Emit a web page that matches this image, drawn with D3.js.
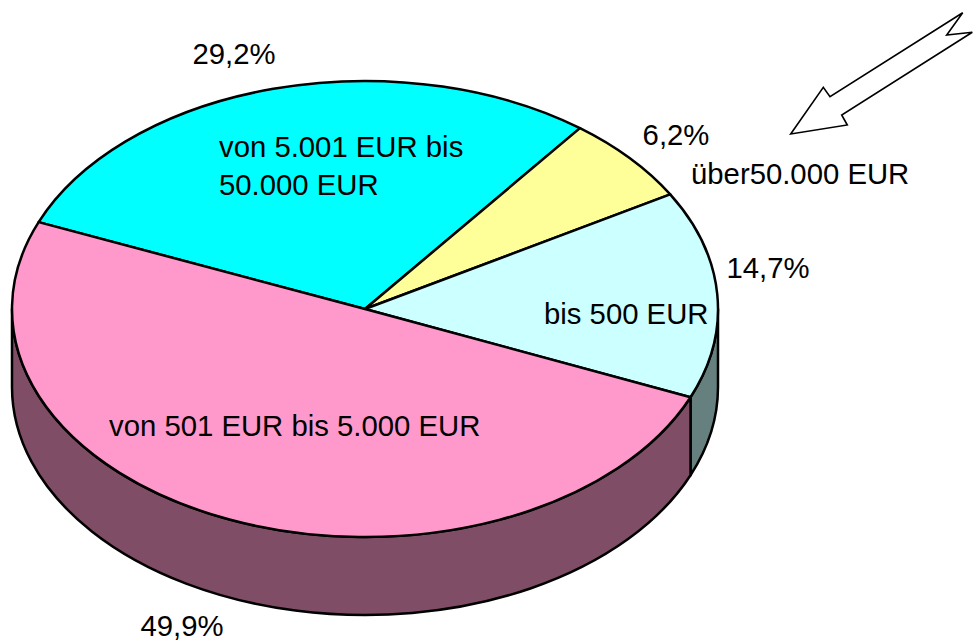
<!DOCTYPE html>
<html>
<head>
<meta charset="utf-8">
<script src="https://cdn.jsdelivr.net/npm/d3@7"></script>
<style>
  html, body { margin: 0; padding: 0; background: #fff; overflow: hidden; }
  text { font-family: "Liberation Sans", Arial, sans-serif; font-size: 29.3px; fill: #000; }
</style>
</head>
<body>
<div id="chart"></div>
<script>
const width = 973;
const height = 640;

const categories = ["von 5.001 EUR bis 50.000 EUR", "über50.000 EUR", "bis 500 EUR", "von 501 EUR bis 5.000 EUR"];
const shares = [29.2, 6.2, 14.7, 49.9];
const shareLabels = ["29,2%", "6,2%", "14,7%", "49,9%"];
const topColors = ["#00ffff", "#ffff99", "#ccffff", "#ff99cc"];
const sideColors = ["#008080", "#808060", "#668080", "#804d66"];

const cx = 365, cy = 309, rx = 353, ry = 228, depth = 78;

// unit circle -> squashed ellipse of the tilted pie
const x = d3.scaleLinear().domain([-1, 1]).range([cx - rx, cx + rx]);
const y = d3.scaleLinear().domain([-1, 1]).range([cy + ry, cy - ry]);
const px = a => x(Math.sin(a));
const py = a => y(Math.cos(a));

const slices = d3.pie().sort(null).value(d => d)
  .startAngle(-67.6 * Math.PI / 180)
  .endAngle((360 - 67.6) * Math.PI / 180)(shares);

const svg = d3.select("#chart")
  .append("svg")
  .attr("width", width)
  .attr("height", height)
  .style("display", "block");

function topPath(d) {
  const large = d.endAngle - d.startAngle > Math.PI ? 1 : 0;
  return `M${cx},${cy}L${px(d.startAngle)},${py(d.startAngle)}` +
    `A${rx},${ry} 0 ${large} 1 ${px(d.endAngle)},${py(d.endAngle)}Z`;
}

// wall only exists on the front half, between 90 and 270 degrees
function sidePath(d) {
  const a0 = Math.max(d.startAngle, Math.PI / 2);
  const a1 = Math.min(d.endAngle, Math.PI * 1.5);
  if (a1 <= a0) return null;
  return `M${px(a0)},${py(a0)}A${rx},${ry} 0 0 1 ${px(a1)},${py(a1)}` +
    `L${px(a1)},${py(a1) + depth}A${rx},${ry} 0 0 0 ${px(a0)},${py(a0) + depth}Z`;
}

svg.append("g")
  .selectAll("path")
  .data(slices)
  .enter().append("path")
  .attr("d", sidePath)
  .attr("fill", (d, i) => sideColors[i])
  .attr("stroke", "#000")
  .attr("stroke-width", 2.5)
  .attr("stroke-linejoin", "round");

svg.append("g")
  .selectAll("path")
  .data(slices)
  .enter().append("path")
  .attr("d", topPath)
  .attr("fill", (d, i) => topColors[i])
  .attr("stroke", "#000")
  .attr("stroke-width", 2.5)
  .attr("stroke-linejoin", "round");

// percent labels
const percentPos = [[234, 64], [676, 145], [768, 278], [182, 636]];
svg.append("g")
  .selectAll("text")
  .data(shareLabels)
  .enter().append("text")
  .attr("x", (d, i) => percentPos[i][0])
  .attr("y", (d, i) => percentPos[i][1])
  .attr("text-anchor", "middle")
  .text(d => d);

// category labels, first one wraps
const labelLines = [
  ["von 5.001 EUR bis", 219, 157],
  ["50.000 EUR", 219, 195],
  [categories[1], 691, 184],
  [categories[2], 544, 324],
  [categories[3], 109, 436]
];
svg.append("g")
  .selectAll("text")
  .data(labelLines)
  .enter().append("text")
  .attr("x", d => d[1])
  .attr("y", d => d[2])
  .text(d => d[0]);

// hollow arrow pointing at the small slice
const arrow = [[962.7, 12.7], [946.7, 35], [972.3, 32.3], [841.7, 115], [847.3, 125], [790.7, 134], [823.3, 87.3], [830, 96.7]];
svg.append("path")
  .attr("d", d3.line()(arrow) + "Z")
  .attr("fill", "#fff")
  .attr("stroke", "#000")
  .attr("stroke-width", 1.6);
</script>
</body>
</html>
